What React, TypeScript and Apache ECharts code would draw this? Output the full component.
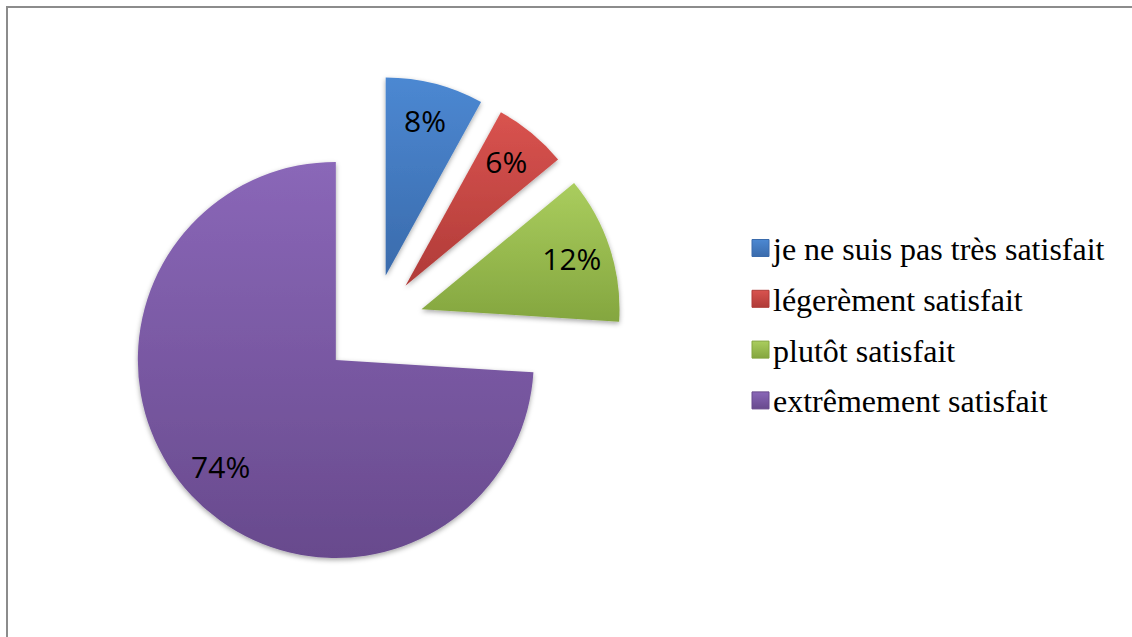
import React, { useEffect, useRef } from "react";
import * as echarts from "echarts";

const categories = [
  "je ne suis pas très satisfait",
  "légerèment satisfait",
  "plutôt satisfait",
  "extrêmement satisfait",
];
const values = [8, 6, 12, 74];
const topColors = ["#4C88D2", "#D9534F", "#AACD5E", "#8A67B8"];
const bottomColors = ["#3A6BAC", "#B03B38", "#84A63F", "#684A8D"];

function grad(i: number) {
  return new echarts.graphic.LinearGradient(0, 0, 0, 1, [
    { offset: 0, color: topColors[i] },
    { offset: 1, color: bottomColors[i] },
  ]);
}

const LEG_X = 752;
const LEG_Y = 248;
const LEG_STEP = 50.8;
const MARK = 17;

export default function App() {
  const ref = useRef<HTMLDivElement>(null);
  useEffect(() => {
    if (!ref.current) return;
    const chart = echarts.init(ref.current, null, { renderer: "svg" });
    const mainData = categories.map((name, i) => ({
      name,
      value: values[i],
      selected: true,
      itemStyle: { color: grad(i) },
    }));
    const labelData = categories.map((name, i) => ({
      name,
      value: values[i],
      selected: true,
    }));
    const legendGraphics = categories.flatMap((name, i) => [
      {
        type: "rect",
        silent: true,
        shape: {
          x: LEG_X,
          y: LEG_Y + i * LEG_STEP - MARK / 2,
          width: MARK,
          height: MARK,
        },
        style: { fill: grad(i), stroke: bottomColors[i], lineWidth: 1 },
      },
      {
        type: "text",
        silent: true,
        x: LEG_X + MARK + 4,
        y: LEG_Y + i * LEG_STEP + 1,
        style: {
          text: name,
          fontFamily: "Liberation Serif",
          fontSize: 32,
          fill: "#000000",
          verticalAlign: "middle",
          align: "left",
        },
      },
    ]);
    chart.setOption({
      animation: false,
      backgroundColor: "#ffffff",
      graphic: [
        {
          type: "line",
          shape: { x1: 6, y1: 7, x2: 1132, y2: 7 },
          style: { stroke: "#8c8c8c", lineWidth: 2 },
          silent: true,
        },
        {
          type: "line",
          shape: { x1: 7, y1: 6, x2: 7, y2: 637 },
          style: { stroke: "#8c8c8c", lineWidth: 2 },
          silent: true,
        },
        ...legendGraphics,
      ],
      series: [
        {
          name: "main",
          type: "pie",
          center: [373, 325],
          radius: [0, 198],
          startAngle: 90,
          clockwise: true,
          selectedMode: "multiple",
          selectedOffset: 51,
          silent: true,
          label: { show: false },
          labelLine: { show: false },
          itemStyle: {
            shadowBlur: 5,
            shadowOffsetY: 2,
            shadowColor: "rgba(0,0,0,0.35)",
          },
          select: { itemStyle: { borderWidth: 0 } },
          emphasis: { scale: false },
          data: mainData,
        },
        {
          name: "labels",
          type: "pie",
          center: [373, 323],
          radius: [112, 198],
          startAngle: 90,
          clockwise: true,
          selectedMode: "multiple",
          selectedOffset: 51,
          silent: true,
          itemStyle: { color: "rgba(0,0,0,0)" },
          select: { itemStyle: { color: "rgba(0,0,0,0)", borderWidth: 0 } },
          label: {
            show: true,
            position: "inside",
            formatter: "{d}%",
            fontFamily: "Open Sans",
            fontSize: 30,
            color: "#000000",
          },
          labelLine: { show: false },
          emphasis: { scale: false },
          data: labelData,
        },
      ],
    });
    return () => chart.dispose();
  }, []);
  return (
    <div
      ref={ref}
      style={{ position: "fixed", left: 0, top: 0, width: 1132, height: 637 }}
    />
  );
}
